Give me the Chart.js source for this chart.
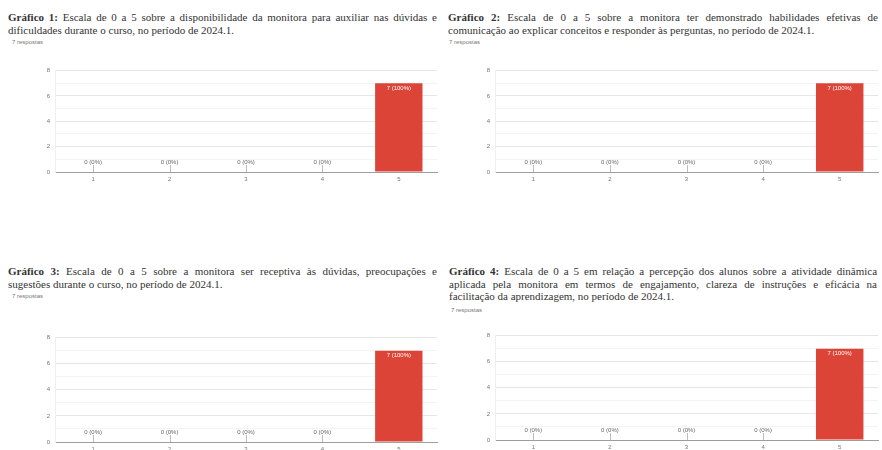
<!DOCTYPE html>
<html lang="pt-BR">
<head>
    <meta charset="UTF-8">
    <title>Gráficos 2024.1</title>
    <script src="https://cdn.jsdelivr.net/npm/chart.js"></script>
    <style>
        html, body {
            margin: 0;
            padding: 0;
            width: 882px;
            height: 450px;
            overflow: hidden;
            background: #fff;
        }
        .titulo {
            position: absolute;
            font-family: "Liberation Serif", "Times New Roman", Times, serif;
            font-size: 11px;
            line-height: 12.5px;
            color: #333;
        }
        .titulo span {
            display: block;
            text-align: justify;
            text-align-last: justify;
            white-space: nowrap;
        }
        .titulo span.ult {
            text-align-last: left;
        }
        .resp {
            position: absolute;
            font-family: "Liberation Sans", Arial, sans-serif;
            font-size: 6px;
            color: #777;
        }
        .box {
            position: absolute;
        }
    </style>
</head>
<body>

    <!-- Gráfico 1 -->
    <div class="titulo" style="left:8px; top:11px; width:429px;">
        <span><b>Gráfico 1:</b> Escala de 0 a 5 sobre a disponibilidade da monitora para auxiliar nas dúvidas e</span>
        <span class="ult">dificuldades durante o curso, no período de 2024.1.</span>
    </div>
    <div class="resp" style="left:12px; top:39px;">7 respostas</div>
    <div class="box" style="left:35px; top:62px; width:405px; height:124px;"><canvas id="grafico1"></canvas></div>

    <!-- Gráfico 2 -->
    <div class="titulo" style="left:448px; top:11px; width:430px;">
        <span><b>Gráfico 2:</b> Escala de 0 a 5 sobre a monitora ter demonstrado habilidades efetivas de</span>
        <span class="ult">comunicação ao explicar conceitos e responder às perguntas, no período de 2024.1.</span>
    </div>
    <div class="resp" style="left:449px; top:39px;">7 respostas</div>
    <div class="box" style="left:475px; top:62px; width:406px; height:124px;"><canvas id="grafico2"></canvas></div>

    <!-- Gráfico 3 -->
    <div class="titulo" style="left:8px; top:265px; width:429px;">
        <span><b>Gráfico 3:</b> Escala de 0 a 5 sobre a monitora ser receptiva às dúvidas, preocupações e</span>
        <span class="ult">sugestões durante o curso, no período de 2024.1.</span>
    </div>
    <div class="resp" style="left:12px; top:293px;">7 respostas</div>
    <div class="box" style="left:35px; top:329px; width:405px; height:127px;"><canvas id="grafico3"></canvas></div>

    <!-- Gráfico 4 -->
    <div class="titulo" style="left:449px; top:265px; width:428px;">
        <span><b>Gráfico 4:</b> Escala de 0 a 5 em relação a percepção dos alunos sobre a atividade dinâmica</span>
        <span>aplicada pela monitora em termos de engajamento, clareza de instruções e eficácia na</span>
        <span class="ult">facilitação da aprendizagem, no período de 2024.1.</span>
    </div>
    <div class="resp" style="left:451px; top:307px;">7 respostas</div>
    <div class="box" style="left:475px; top:327px; width:406px; height:127px;"><canvas id="grafico4"></canvas></div>

    <script>
        // dados
        const categorias = ['1', '2', '3', '4', '5'];
        const respostasG1 = [0, 0, 0, 0, 7];
        const respostasG2 = [0, 0, 0, 0, 7];
        const respostasG3 = [0, 0, 0, 0, 7];
        const respostasG4 = [0, 0, 0, 0, 7];
        const yMax = 8;

        const corBarra = '#db4437';
        const fonteEixo = { family: 'Liberation Sans, Arial, sans-serif', size: 6 };

        // rótulos "n (p%)" e o tracinho das barras zeradas
        const rotulos = {
            id: 'rotulos',
            afterDatasetsDraw(chart) {
                let ctx = chart.ctx;
                let valores = chart.data.datasets[0].data;
                let total = valores.reduce((a, b) => a + b, 0);
                let base = chart.scales.y.getPixelForValue(0);
                let meta = chart.getDatasetMeta(0);
                ctx.save();
                ctx.font = '6px Liberation Sans, Arial, sans-serif';
                ctx.textAlign = 'center';
                ctx.textBaseline = 'middle';
                meta.data.forEach((bar, i) => {
                    let v = valores[i];
                    let txt = v + ' (' + Math.round(v / total * 100) + '%)';
                    if (v > 0) {
                        ctx.fillStyle = '#fff';
                        ctx.fillText(txt, bar.x, bar.y + 5);
                    } else {
                        ctx.strokeStyle = '#bdbdbd';
                        ctx.lineWidth = 1;
                        ctx.beginPath();
                        ctx.moveTo(Math.round(bar.x) + 0.5, base);
                        ctx.lineTo(Math.round(bar.x) + 0.5, base - 7);
                        ctx.stroke();
                        ctx.fillStyle = '#666';
                        ctx.fillText(txt, bar.x, base - 10);
                    }
                });
                ctx.restore();
            }
        };

        function criarGrafico(id, valores) {
            new Chart(document.getElementById(id), {
                type: 'bar',
                data: {
                    labels: categorias,
                    datasets: [{
                        data: valores,
                        backgroundColor: corBarra,
                        borderWidth: 0,
                        barPercentage: 0.62,
                        categoryPercentage: 1
                    }]
                },
                options: {
                    responsive: true,
                    maintainAspectRatio: false,
                    animation: false,
                    layout: { padding: { top: 5, right: 3, left: 0, bottom: 0 } },
                    plugins: {
                        legend: { display: false },
                        tooltip: { enabled: false }
                    },
                    scales: {
                        x: {
                            grid: { display: false, drawTicks: false },
                            border: { display: true, color: '#9e9e9e', width: 1 },
                            ticks: { font: fonteEixo, color: '#777', padding: 4 },
                            afterFit: (scale) => { scale.height = 14; }
                        },
                        y: {
                            min: 0,
                            max: yMax,
                            border: { display: true, color: '#eeeeee' },
                            grid: {
                                drawTicks: false,
                                color: (c) => c.tick.value === 0 ? 'rgba(0,0,0,0)' : (c.tick.value % 2 === 0 ? '#e6e6e6' : '#f3f3f3')
                            },
                            ticks: {
                                stepSize: 1,
                                font: fonteEixo,
                                color: '#777',
                                padding: 5,
                                callback: (v) => v % 2 === 0 ? v : ''
                            },
                            afterFit: (scale) => { scale.width = 20; }
                        }
                    }
                },
                plugins: [rotulos]
            });
        }

        criarGrafico('grafico1', respostasG1);
        criarGrafico('grafico2', respostasG2);
        criarGrafico('grafico3', respostasG3);
        criarGrafico('grafico4', respostasG4);
    </script>

</body>
</html>
